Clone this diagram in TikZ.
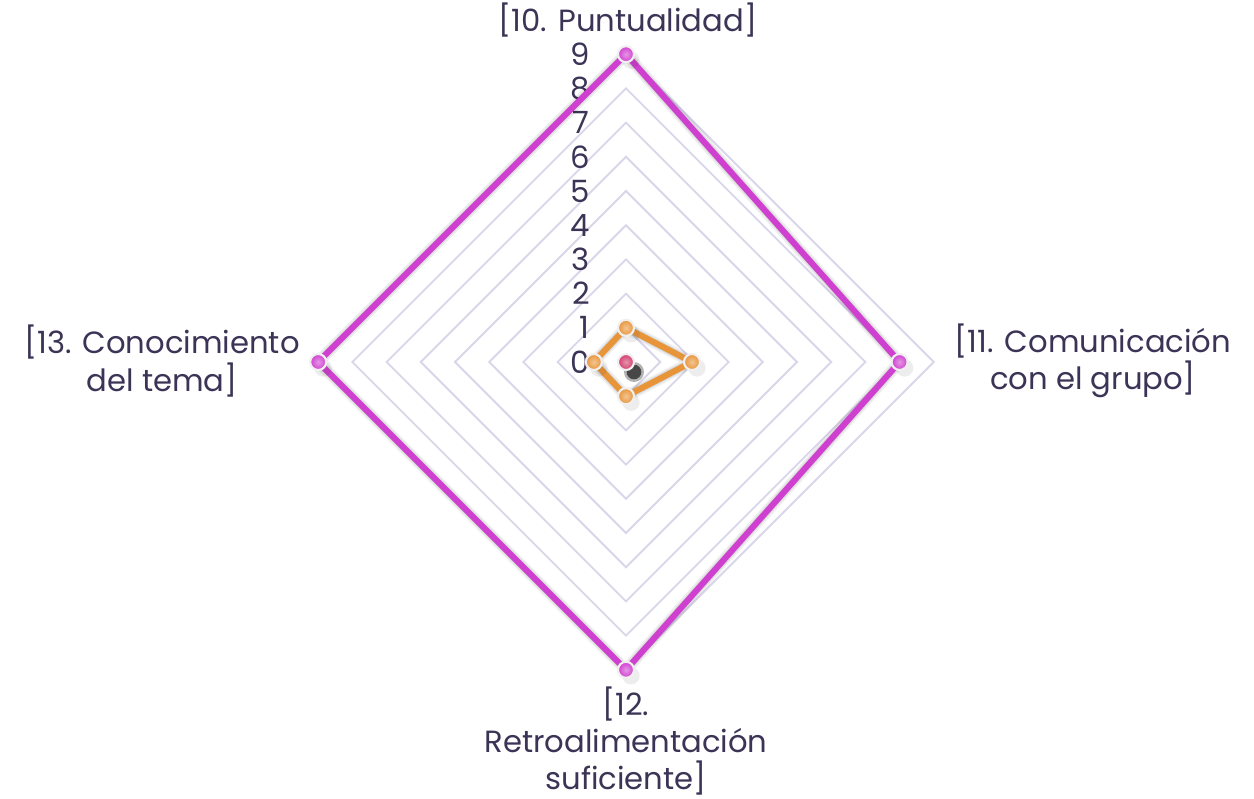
\documentclass[tikz,border=0pt]{standalone}
\usepackage{fontspec}
\setmainfont{Poppins}
\definecolor{txt}{HTML}{3C3456}
\definecolor{gridc}{HTML}{D9D6EA}
\definecolor{purp}{HTML}{D040D0}
\definecolor{oran}{HTML}{E8953A}
\definecolor{pink}{HTML}{D23C6C}
\begin{document}
\begin{tikzpicture}[x=0.75pt,y=-0.75pt,
  lbl/.style={text=txt,font=\fontsize{23}{28}\selectfont,align=center,inner sep=0pt},
  num/.style={text=txt,font=\fontsize{23}{24}\selectfont,anchor=east,inner sep=0pt},
  gridline/.style={draw=gridc,line width=1.4pt},
  serie/.style={line width=4.5pt,line join=round},
  shad/.style={draw=black,line width=6pt,opacity=0.12,line join=round},
  mk/.style={circle,minimum size=12pt,inner sep=0pt,draw=white!88!gray,line width=1.6pt,
    shading=radial,inner color=#1!55!white,outer color=#1},
  mkshad/.style={circle,minimum size=13pt,inner sep=0pt,fill=black,opacity=0.25}
]
\useasboundingbox (0,0) rectangle (1254,799);
\fill[white] (0,0) rectangle (1254,799);
\def\cx{626}\def\cy{362}\def\u{34.2}
\coordinate (O) at (\cx,\cy);
% grid
\foreach \k in {1,...,9}{
  \draw[gridline] (\cx,\cy-\k*\u) -- (\cx+\k*\u,\cy) -- (\cx,\cy+\k*\u) -- (\cx-\k*\u,\cy) -- cycle;
}
% axis numbers
\foreach \k in {0,...,9}{
  \node[num] (n\k) at (590,\cy-\k*\u) {\k};
}
% purple series coordinates
\coordinate (pA) at (\cx,\cy-9*\u);
\coordinate (pB) at (\cx+8*\u,\cy);
\coordinate (pC) at (\cx,\cy+9*\u);
\coordinate (pD) at (\cx-9*\u,\cy);
% orange series
\coordinate (oA) at (\cx,\cy-1*\u);
\coordinate (oB) at (\cx+1.93*\u,\cy);
\coordinate (oC) at (\cx,\cy+1*\u);
\coordinate (oD) at (\cx-0.94*\u,\cy);
% shadows of lines
\foreach \w/\op in {9pt/0.06,6.5pt/0.08,4.5pt/0.10}{
  \draw[shad,line width=\w,opacity=\op,shift={(5,6)}] (pA) -- (pB) -- (pC) -- (pD) -- cycle;
  \draw[shad,line width=\w,opacity=\op,shift={(5,6)}] (oA) -- (oB) -- (oC) -- (oD) -- cycle;
}
\draw[serie,draw=purp] (pA) -- (pB) -- (pC) -- (pD) -- cycle;
\draw[serie,draw=oran] (oA) -- (oB) -- (oC) -- (oD) -- cycle;
% marker shadows
\foreach \p in {pA,pB,pC,pD,oA,oB,oC,oD}{
  \node[mkshad,opacity=0.07] at ([shift={(5,6)}]\p) {};
}
\node[mkshad,minimum size=15pt,opacity=0.3] at ([shift={(8,10)}]O) {};
\node[mkshad,minimum size=11pt,opacity=0.6] at ([shift={(8,10)}]O) {};
% markers
\foreach \p in {pA,pB,pC,pD}{ \node[mk=purp] (m\p) at (\p) {}; }
\foreach \p in {oA,oB,oC,oD}{ \node[mk=oran] (m\p) at (\p) {}; }
\node[mk=pink] (mpink) at (O) {};
% labels
\node[lbl] (l10) at (628,20) {[10. Puntualidad]};
\node[lbl] (l11) at (1093,361) {[11. Comunicación\\con el grupo]};
\node[lbl] (l12) at (626,741) {[12.\\Retroalimentación\\suficiente]};
\node[lbl] (l13) at (162,361) {[13. Conocimiento\\del tema]};
\end{tikzpicture}
\end{document}
